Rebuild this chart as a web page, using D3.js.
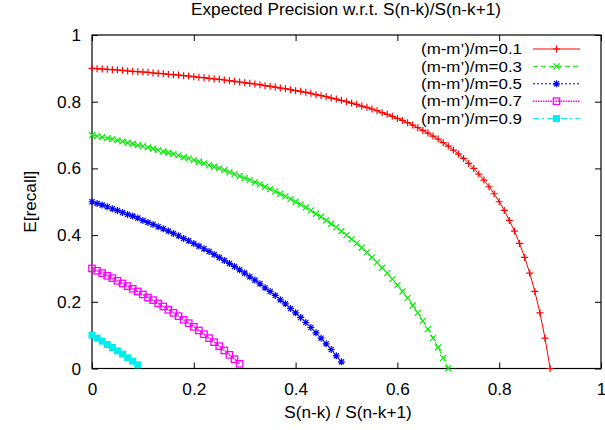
<!DOCTYPE html>
<html>
<head>
<meta charset="utf-8">
<script src="https://cdn.jsdelivr.net/npm/d3@7"></script>
<style>
  body { margin: 0; background: #fff; }
  text { font-family: "Liberation Sans", Arial, sans-serif; }
</style>
</head>
<body>
<div id="chart"></div>
<script>
// ratio S(n-k)/S(n-k+1), sampled every 0.01
const xs = [0.00,0.01,0.02,0.03,0.04,0.05,0.06,0.07,0.08,0.09,
            0.10,0.11,0.12,0.13,0.14,0.15,0.16,0.17,0.18,0.19,
            0.20,0.21,0.22,0.23,0.24,0.25,0.26,0.27,0.28,0.29,
            0.30,0.31,0.32,0.33,0.34,0.35,0.36,0.37,0.38,0.39,
            0.40,0.41,0.42,0.43,0.44,0.45,0.46,0.47,0.48,0.49,
            0.50,0.51,0.52,0.53,0.54,0.55,0.56,0.57,0.58,0.59,
            0.60,0.61,0.62,0.63,0.64,0.65,0.66,0.67,0.68,0.69,
            0.70,0.71,0.72,0.73,0.74,0.75,0.76,0.77,0.78,0.79,
            0.80,0.81,0.82,0.83,0.84,0.85,0.86,0.87,0.88,0.89,0.90];

// E[recall]
const recall01 = [0.900,0.899,0.898,0.897,0.896,0.895,0.894,0.892,0.891,0.890,
                  0.889,0.888,0.886,0.885,0.884,0.882,0.881,0.880,0.878,0.877,
                  0.875,0.873,0.872,0.870,0.868,0.867,0.865,0.863,0.861,0.859,
                  0.857,0.855,0.853,0.851,0.848,0.846,0.844,0.841,0.839,0.836,
                  0.833,0.831,0.828,0.825,0.821,0.818,0.815,0.811,0.808,0.804,
                  0.800,0.796,0.792,0.787,0.783,0.778,0.773,0.767,0.762,0.756,
                  0.750,0.744,0.737,0.730,0.722,0.714,0.706,0.697,0.688,0.677,
                  0.667,0.655,0.643,0.630,0.615,0.600,0.583,0.565,0.545,0.524,
                  0.500,0.474,0.444,0.412,0.375,0.333,0.286,0.231,0.167,0.091,0.000];
const recall03 = [0.700,0.697,0.694,0.691,0.688,0.684,0.681,0.677,0.674,0.670,
                  0.667,0.663,0.659,0.655,0.651,0.647,0.643,0.639,0.634,0.630,
                  0.625,0.620,0.615,0.610,0.605,0.600,0.595,0.589,0.583,0.577,
                  0.571,0.565,0.559,0.552,0.545,0.538,0.531,0.524,0.516,0.508,
                  0.500,0.492,0.483,0.474,0.464,0.455,0.444,0.434,0.423,0.412,
                  0.400,0.388,0.375,0.362,0.348,0.333,0.318,0.302,0.286,0.268,
                  0.250,0.231,0.211,0.189,0.167,0.143,0.118,0.091,0.063,0.032,0.000];
const recall05 = [0.500,0.495,0.490,0.485,0.479,0.474,0.468,0.462,0.457,0.451,
                  0.444,0.438,0.432,0.425,0.419,0.412,0.405,0.398,0.390,0.383,
                  0.375,0.367,0.359,0.351,0.342,0.333,0.324,0.315,0.306,0.296,
                  0.286,0.275,0.265,0.254,0.242,0.231,0.219,0.206,0.194,0.180,
                  0.167,0.153,0.138,0.123,0.107,0.091,0.074,0.057,0.038,0.020];
const recall07 = [0.300,0.293,0.286,0.278,0.271,0.263,0.255,0.247,0.239,0.231,
                  0.222,0.213,0.205,0.195,0.186,0.176,0.167,0.157,0.146,0.136,
                  0.125,0.114,0.103,0.091,0.079,0.067,0.054,0.041,0.028,0.014];
const recall09 = [0.100,0.091,0.082,0.072,0.063,0.053,0.043,0.032,0.022,0.011];

const seriesLabels = ["(m-m\u2019)/m=0.1","(m-m\u2019)/m=0.3","(m-m\u2019)/m=0.5","(m-m\u2019)/m=0.7","(m-m\u2019)/m=0.9"];
const seriesValues = [recall01, recall03, recall05, recall07, recall09];
const xTicks = [0, 0.2, 0.4, 0.6, 0.8, 1];
const yTicks = [0, 0.2, 0.4, 0.6, 0.8, 1];

const styles = [
  {color: "#ff0000", dash: null,      lw: 1,   mark: "plus"},
  {color: "#00ee00", dash: "5,3",     lw: 1,   mark: "cross"},
  {color: "#0000ff", dash: "2,2",     lw: 1,   mark: "star"},
  {color: "#ff00ff", dash: "1.5,1",   lw: 1.6, mark: "box"},
  {color: "#00eeee", dash: "6,3,2,3", lw: 1,   mark: "fbox"}
];

function draw() {
  const width = 605, height = 430;
  const margin = {left: 92, right: 4, top: 35, bottom: 61.5};
  const fs = 17.2;
  const legendFs = 15;

  const svg = d3.select("#chart").append("svg")
    .attr("width", width).attr("height", height)
    .style("display", "block").style("background", "#fff");

  const x = d3.scaleLinear().domain([0, 1]).range([margin.left, width - margin.right]);
  const y = d3.scaleLinear().domain([0, 1]).range([height - margin.bottom, margin.top]);

  const fmt = d => d === 0 || d === 1 ? String(d) : d.toFixed(1);

  // axes with inward ticks, mirrored on top/right
  const tl = 6;
  svg.append("g").attr("transform", `translate(0,${y(0)})`)
    .call(d3.axisBottom(x).tickValues(xTicks).tickSize(-tl).tickPadding(14).tickFormat(fmt));
  svg.append("g").attr("transform", `translate(0,${y(1)})`)
    .call(d3.axisTop(x).tickValues(xTicks).tickSize(-tl).tickFormat(""));
  svg.append("g").attr("transform", `translate(${x(0)},0)`)
    .call(d3.axisLeft(y).tickValues(yTicks).tickSize(-tl).tickPadding(11).tickFormat(fmt));
  svg.append("g").attr("transform", `translate(${x(1)},0)`)
    .call(d3.axisRight(y).tickValues(yTicks).tickSize(-tl).tickFormat(""));

  svg.selectAll(".domain").remove();
  svg.selectAll(".tick line").attr("stroke", "#000");
  svg.selectAll(".tick text").attr("fill", "#000").style("font-size", fs + "px")
    .style("font-family", '"Liberation Sans", Arial, sans-serif');

  svg.append("rect")
    .attr("x", x(0)).attr("y", y(1))
    .attr("width", x(1) - x(0)).attr("height", y(0) - y(1))
    .attr("fill", "none").attr("stroke", "#000").attr("stroke-width", 1.2);

  // titles
  svg.append("text").attr("x", 346).attr("y", 15)
    .attr("text-anchor", "middle").style("font-size", fs + "px")
    .text("Expected Precision w.r.t. S(n-k)/S(n-k+1)");
  svg.append("text").attr("x", 348).attr("y", 418)
    .attr("text-anchor", "middle").style("font-size", fs + "px")
    .text("S(n-k) / S(n-k+1)");
  svg.append("text")
    .attr("transform", `translate(36,${(y(0) + y(1)) / 2}) rotate(-90)`)
    .attr("text-anchor", "middle").style("font-size", fs + "px")
    .text("E[recall]");

  const markPath = {
    plus:  "M-3.5,0H3.5M0,-3.5V3.5",
    cross: "M-3,-3L3,3M-3,3L3,-3",
    star:  "M-3.5,0H3.5M0,-3.5V3.5M-2.6,-2.6L2.6,2.6M-2.6,2.6L2.6,-2.6"
  };

  function drawMark(g, type, color, cx, cy) {
    if (type === "box") {
      g.append("rect").attr("x", cx - 3.2).attr("y", cy - 3.2).attr("width", 6.4).attr("height", 6.4)
        .attr("fill", "none").attr("stroke", color).attr("stroke-width", 1.3);
    } else if (type === "fbox") {
      g.append("rect").attr("x", cx - 3.5).attr("y", cy - 3.5).attr("width", 7).attr("height", 7)
        .attr("fill", color);
    } else {
      g.append("path").attr("d", markPath[type])
        .attr("transform", `translate(${cx},${cy})`)
        .attr("fill", "none").attr("stroke", color).attr("stroke-width", 1.2);
    }
  }

  const line = d3.line().x(d => x(d[0])).y(d => y(d[1]));

  seriesValues.forEach((vals, i) => {
    const st = styles[i];
    const pts = vals.map((v, j) => [xs[j], v]);
    const g = svg.append("g");
    g.append("path").datum(pts)
      .attr("d", line)
      .attr("fill", "none").attr("stroke", st.color).attr("stroke-width", st.lw)
      .attr("stroke-dasharray", st.dash);
    pts.forEach(p => drawMark(g, st.mark, st.color, x(p[0]), y(p[1])));

    // legend entry (slightly stretched so rows don't collide)
    const ly = 49 + i * 17.4;
    svg.append("text").attr("x", 522).attr("y", ly).attr("dy", "0.35em")
      .attr("text-anchor", "end").style("font-size", legendFs + "px")
      .attr("textLength", 101).attr("lengthAdjust", "spacingAndGlyphs")
      .text(seriesLabels[i]);
    svg.append("line").attr("x1", 533).attr("x2", 580).attr("y1", ly).attr("y2", ly)
      .attr("stroke", st.color).attr("stroke-width", st.lw).attr("stroke-dasharray", st.dash);
    drawMark(svg, st.mark, st.color, 556.5, ly);
  });
}
draw();
</script>
</body>
</html>
